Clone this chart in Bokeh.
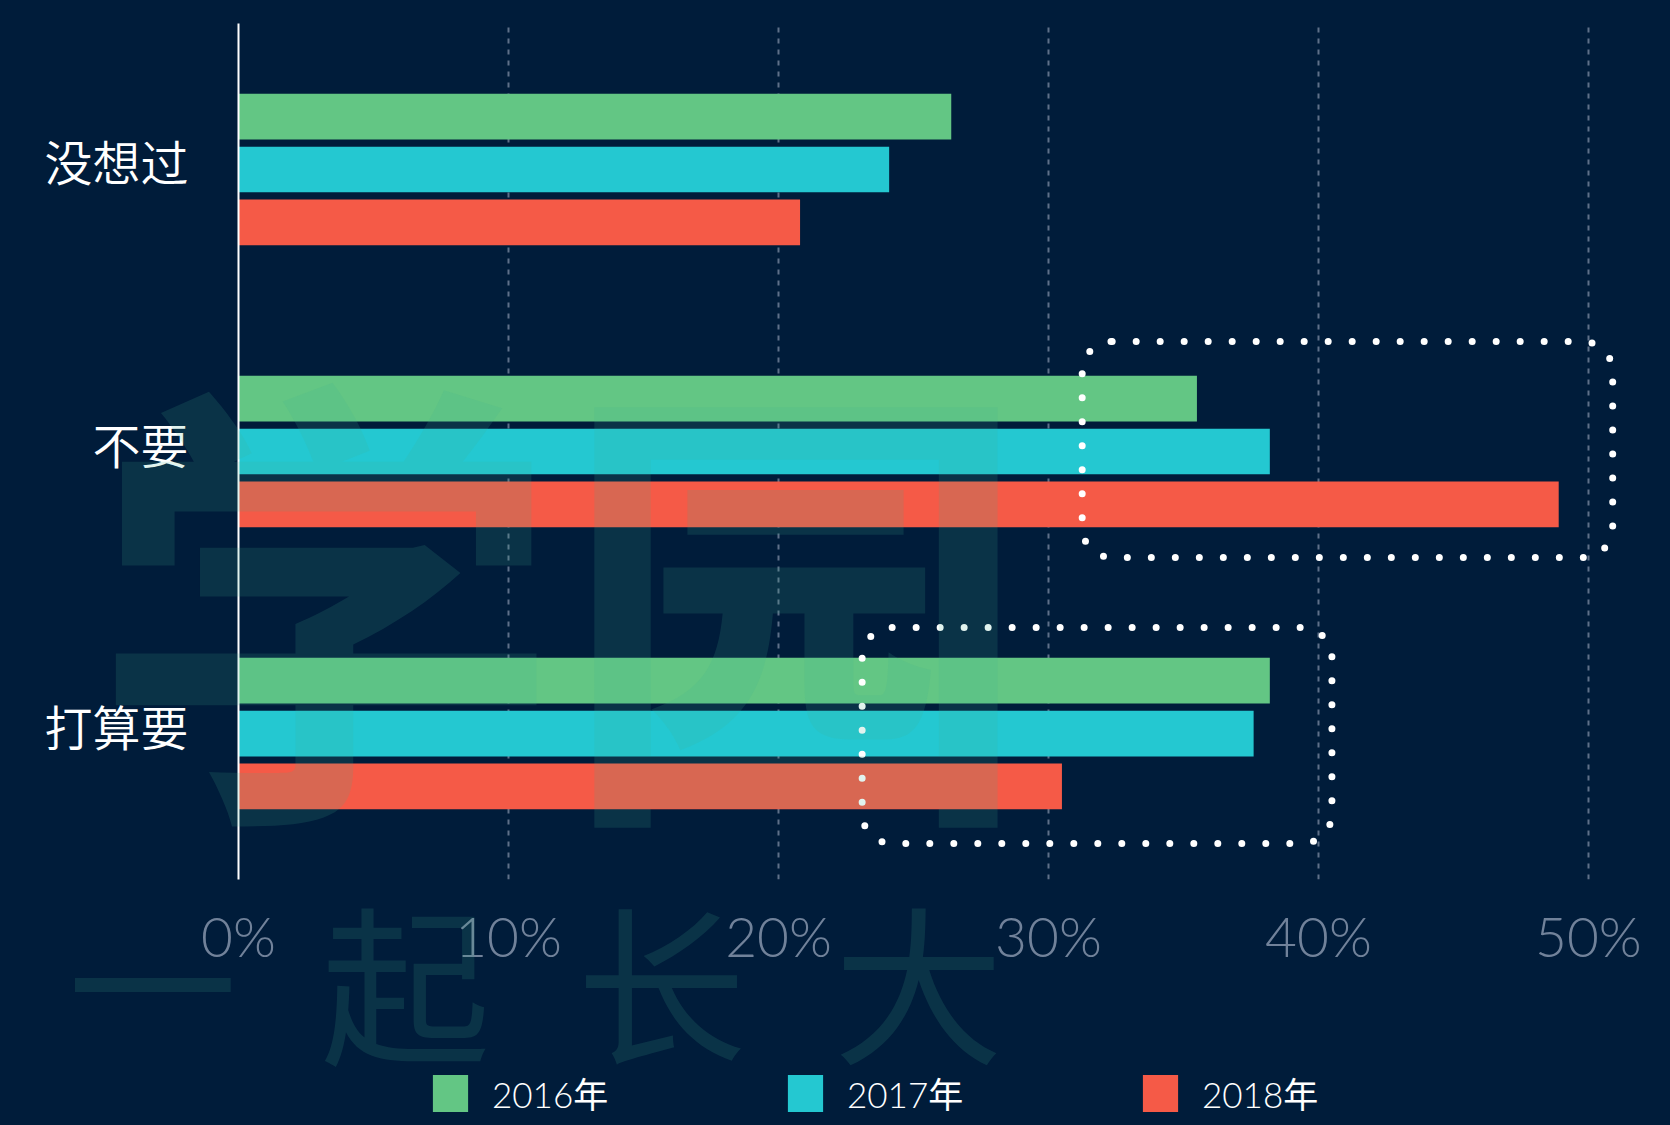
from bokeh.plotting import figure
from bokeh.models import (Range1d, PrintfTickFormatter, FixedTicker,
                          BoxAnnotation, ColumnDataSource)
from bokeh.transform import dodge
from bokeh.embed import file_html
from bokeh.resources import INLINE
from bokeh.core.properties import value

# ---- data (categories listed bottom to top) ----
categories = ["打算要", "不要", "没想过"]
years = ["2016年", "2017年", "2018年"]
v2016 = [38.2, 35.5, 26.4]
v2017 = [37.6, 38.2, 24.1]
v2018 = [30.5, 48.9, 20.8]
x_ticks = [0, 10, 20, 30, 40, 50]

# highlighted regions: (left %, right %, bottom, top) in category-index units
highlight_boxes = [(31.25, 50.9, 0.592, 1.358), (23.1, 40.5, -0.422, 0.344)]

# watermark texts and their page positions (px from left, px from bottom)
watermark_logo = "学园"
logo_pos = (90, 544)
watermark_chars = ["一", "起", "长", "大"]
chars_x = [152, 405, 661, 918]
chars_y = [148, 148, 148, 148]

W, H = 1670, 1125
BG = "#001c3a"
colors = ["#63c684", "#24c8d1", "#f55a47"]
LATIN_LIGHT = "'Lato Light', 'Roboto Light', Lato, 'Noto Sans CJK SC', sans-serif"
CJK_LIGHT = "'Noto Sans CJK SC DemiLight', 'Noto Sans CJK SC Light', 'Noto Sans CJK SC', sans-serif"

pos = list(range(len(categories)))
src = ColumnDataSource(dict(pos=pos, v2016=v2016, v2017=v2017, v2018=v2018))

p = figure(width=W, height=H, output_backend="svg", toolbar_location=None, tools="",
           y_range=Range1d(-0.5496, 2.4858), x_range=Range1d(0, 52.3),
           min_border_left=238, min_border_right=20, min_border_top=23, min_border_bottom=246)
p.background_fill_color = None
p.border_fill_color = None
p.outline_line_color = None

offsets = [0.1555, -0.032, -0.2195]
series = ["v2016", "v2017", "v2018"]
for s, off, c in zip(series, offsets, colors):
    p.hbar(y=dodge("pos", off), left=0, right=s, height=0.162,
           source=src, fill_color=c, line_color=None)

# axes
p.xaxis.ticker = FixedTicker(ticks=x_ticks)
p.xaxis.formatter = PrintfTickFormatter(format="%d%%")
p.xaxis.axis_line_color = None
p.xaxis.major_tick_line_color = None
p.xaxis.minor_tick_line_color = None
p.xaxis.major_label_text_font = LATIN_LIGHT
p.xaxis.major_label_text_font_size = "55px"
p.xaxis.major_label_text_color = "#71829a"
p.xaxis.major_label_standoff = 17

p.yaxis.ticker = FixedTicker(ticks=pos)
p.yaxis.major_label_overrides = {i: c for i, c in zip(pos, categories)}
p.yaxis.axis_line_color = "white"
p.yaxis.axis_line_width = 2
p.yaxis.major_tick_line_color = None
p.yaxis.minor_tick_line_color = None
p.yaxis.major_label_text_font = CJK_LIGHT
p.yaxis.major_label_text_font_size = "48px"
p.yaxis.major_label_text_color = "white"
p.yaxis.major_label_standoff = 44

p.ygrid.grid_line_color = None
p.xgrid.ticker = FixedTicker(ticks=x_ticks[1:])
p.xgrid.grid_line_color = "#5f7089"
p.xgrid.grid_line_width = 2
p.xgrid.grid_line_dash = "5 6"

# dotted rounded highlight boxes
for (l, r, b, t) in highlight_boxes:
    p.add_layout(BoxAnnotation(left=l, right=r, bottom=b, top=t, fill_alpha=0,
                               line_color="white", line_alpha=1.0, line_width=7,
                               line_dash="0 24", line_cap="round", border_radius=30))

# ---- transparent overlay: watermark + legend (drawn over the chart) ----
o = figure(width=W, height=H, output_backend="svg", toolbar_location=None, tools="",
           x_range=Range1d(0, W), y_range=Range1d(0, H),
           x_axis_location=None, y_axis_location=None, min_border=0)
o.background_fill_color = None
o.border_fill_color = None
o.outline_line_color = None
for g in o.grid:
    g.visible = False

WM = "#40b094"
o.text(x=[logo_pos[0]], y=[logo_pos[1]], text=[watermark_logo],
       text_font=value("Noto Sans CJK SC"), text_font_style="bold", text_font_size="470px",
       text_color=WM, text_alpha=0.155, text_align="left", text_baseline="middle")
o.text(x=chars_x, y=chars_y, text=watermark_chars,
       text_font=value("Noto Sans CJK SC"), text_font_size="170px",
       text_color=WM, text_alpha=0.155, text_align="center", text_baseline="middle")

# legend swatches (zero-size placeholder glyphs that only feed the legend)
for yr, c in zip(years, colors):
    o.hbar(y=[0], left=[0], right=[0], height=0, fill_color=c, line_color=None, legend_label=yr)
lg = o.legend[0]
lg.location = (428, 7)
lg.orientation = "horizontal"
lg.glyph_width = 44
lg.glyph_height = 46
lg.label_standoff = 20
lg.label_width = 291
lg.label_height = 46
lg.spacing = 0
lg.padding = 0
lg.margin = 0
lg.border_line_color = None
lg.background_fill_alpha = 0
lg.label_text_color = "white"
lg.label_text_font = LATIN_LIGHT
lg.label_text_font_size = "35px"

html = file_html([p, o], INLINE)
css = ("<style>html, body { background: %s; margin: 0; padding: 0; overflow: hidden; }"
       " body { position: relative; }"
       " body > div, body > div > * { position: absolute !important; top: 0; left: 0; }</style></head>") % BG
html = html.replace("</head>", css, 1)
open("out.html", "w").write(html)
